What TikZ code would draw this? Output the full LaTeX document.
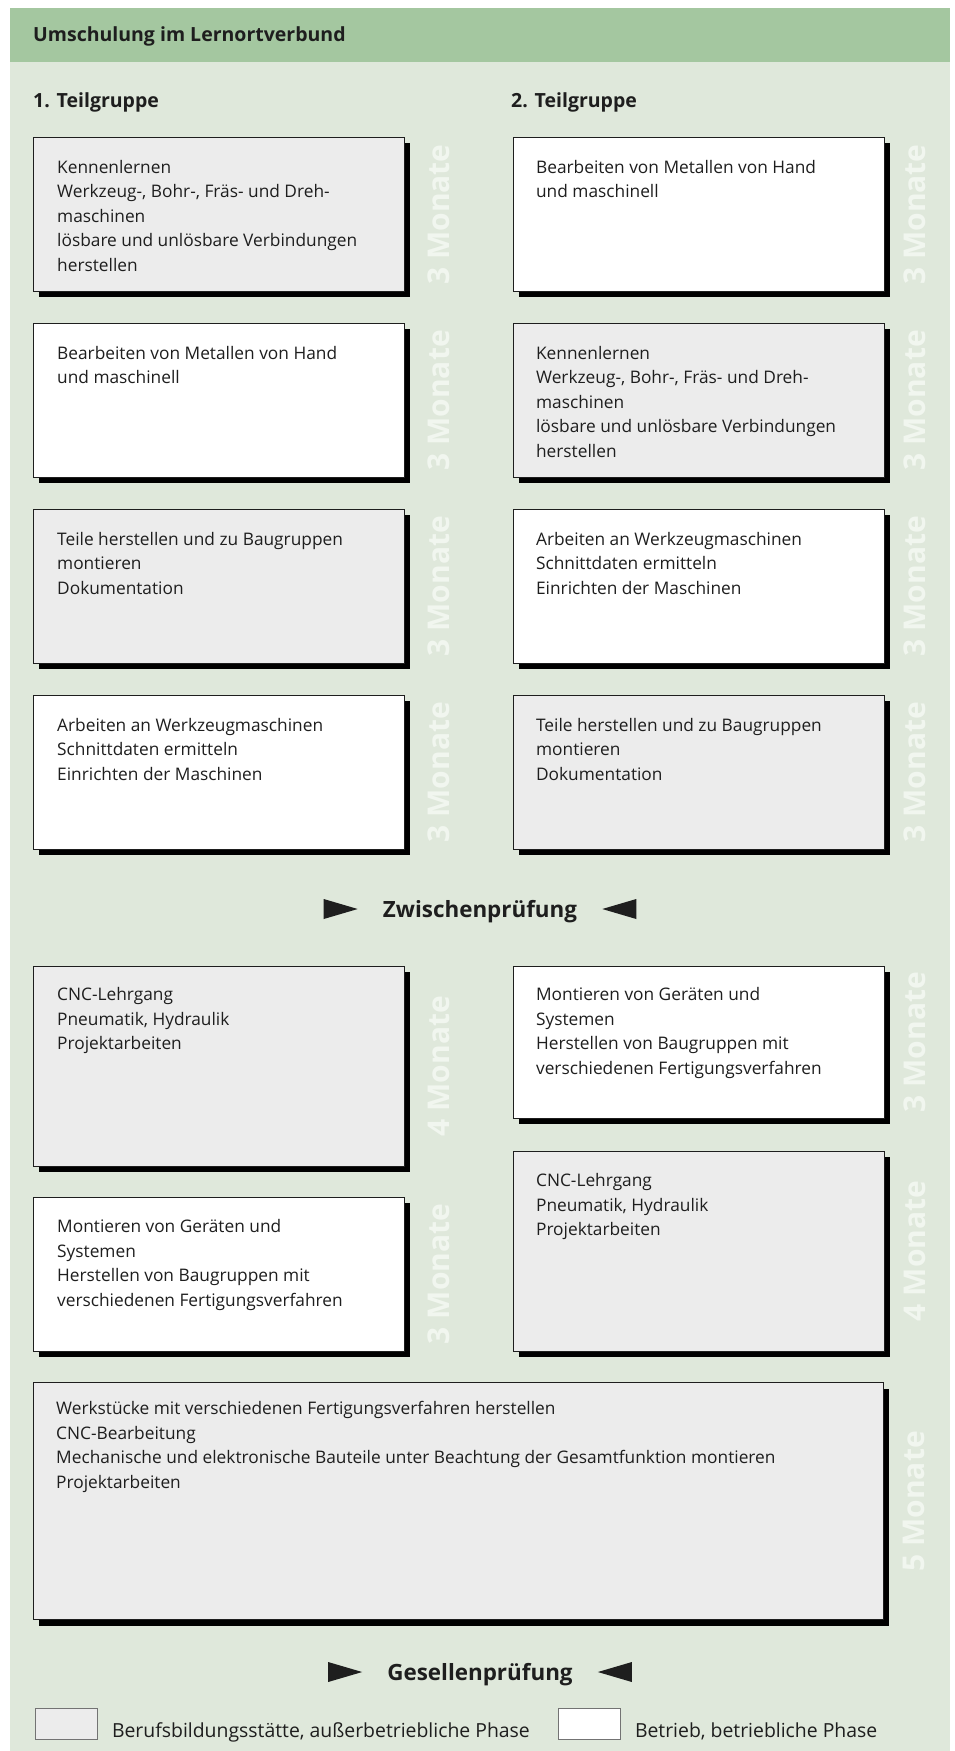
\documentclass[tikz,border=0pt]{standalone}
\usepackage{fontspec}
\setmainfont{Open Sans}
\usepackage{tikz}
\usepackage{xcolor}
\usetikzlibrary{positioning,shadows}

\definecolor{headgreen}{RGB}{164,199,160}
\definecolor{bodygreen}{RGB}{223,232,219}
\definecolor{monthwhite}{RGB}{241,246,239}
\definecolor{schoolgray}{RGB}{236,236,236}
\definecolor{ink}{RGB}{30,30,30}

\begin{document}
\begin{tikzpicture}[x = 1pt, y = -1pt,
        phase/.style = {draw = ink, line width = 0.9pt, minimum width = 371pt, minimum height = 154pt,
            inner sep = 0pt, anchor = north west,
            drop shadow = {shadow xshift = 6pt, shadow yshift = -6pt, opacity = 1, fill = black}},
        school/.style = {phase, fill = schoolgray},
        firm/.style = {phase, fill = white},
        txt/.style = {anchor = north west, align = left, inner sep = 0pt, text = ink,
            font = \fontsize{17.3}{24.5}\selectfont},
        mon/.style = {rotate = 90, text = monthwhite, inner sep = 0pt, font = \bfseries\fontsize{30}{30}\selectfont},
        head/.style = {anchor = base west, inner sep = 0pt, text = ink, font = \bfseries\fontsize{19.5}{24}\selectfont},
        exam/.style = {anchor = base, inner sep = 0pt, text = ink, font = \bfseries\fontsize{22.4}{26}\selectfont},
        legbox/.style = {draw = black!55, line width = 0.8pt, minimum width = 62pt, minimum height = 31pt,
            inner sep = 0pt, anchor = north west},
        legtxt/.style = {anchor = base west, inner sep = 0pt, text = ink, font = \fontsize{19.4}{24}\selectfont}]
        \useasboundingbox (0,0) rectangle (954,1751);
        \fill [white] (0,0) rectangle (954,1751);
        \fill [bodygreen] (10,8) rectangle (950,1751);
        \fill [headgreen] (10,8) rectangle (950,62);

        \node [head] (T) at (33,41) {Umschulung im Lernortverbund};
        \node [head] (G1) at (33,107) {1. Teilgruppe};
        \node [head] (G2) at (511,107) {2. Teilgruppe};

        \node [school] (L1) at (33,137) {};
        \node [firm] (L2) [below = 31pt of L1] {};
        \node [school] (L3) [below = 31pt of L2] {};
        \node [firm] (L4) [below = 31pt of L3] {};
        \node [school, minimum height = 200pt] (L5) [below = 116pt of L4] {};
        \node [firm] (L6) [below = 30pt of L5] {};

        \node [firm] (R1) [right = 108pt of L1] {};
        \node [school] (R2) [right = 108pt of L2] {};
        \node [firm] (R3) [right = 108pt of L3] {};
        \node [school] (R4) [right = 108pt of L4] {};
        \node [firm, minimum height = 152pt] (R5) [below = 116pt of R4] {};
        \node [school, minimum height = 200pt] (R6) [below = 32pt of R5] {};

        \node [school, minimum width = 850pt, minimum height = 237pt] (W) [below right = 31pt and 0pt of L6.south west] {};

        \node [txt] (L1t) at ([xshift = 24pt, yshift = -23pt] L1.north west) {Kennenlernen\\Werkzeug-, Bohr-, Fräs- und Dreh-\\maschinen\\lösbare und unlösbare Verbindungen\\herstellen};
        \node [txt] (L2t) at ([xshift = 24pt, yshift = -23pt] L2.north west) {Bearbeiten von Metallen von Hand\\und maschinell};
        \node [txt] (L3t) at ([xshift = 24pt, yshift = -23pt] L3.north west) {Teile herstellen und zu Baugruppen\\montieren\\Dokumentation};
        \node [txt] (L4t) at ([xshift = 24pt, yshift = -23pt] L4.north west) {Arbeiten an Werkzeugmaschinen\\Schnittdaten ermitteln\\Einrichten der Maschinen};
        \node [txt] (L5t) at ([xshift = 24pt, yshift = -22pt] L5.north west) {CNC-Lehrgang\\Pneumatik, Hydraulik\\Projektarbeiten};
        \node [txt] (L6t) at ([xshift = 24pt, yshift = -23pt] L6.north west) {Montieren von Geräten und\\Systemen\\Herstellen von Baugruppen mit\\verschiedenen Fertigungsverfahren};
        \node [txt] (R1t) at ([xshift = 23pt, yshift = -23pt] R1.north west) {Bearbeiten von Metallen von Hand\\und maschinell};
        \node [txt] (R2t) at ([xshift = 23pt, yshift = -23pt] R2.north west) {Kennenlernen\\Werkzeug-, Bohr-, Fräs- und Dreh-\\maschinen\\lösbare und unlösbare Verbindungen\\herstellen};
        \node [txt] (R3t) at ([xshift = 23pt, yshift = -23pt] R3.north west) {Arbeiten an Werkzeugmaschinen\\Schnittdaten ermitteln\\Einrichten der Maschinen};
        \node [txt] (R4t) at ([xshift = 23pt, yshift = -23pt] R4.north west) {Teile herstellen und zu Baugruppen\\montieren\\Dokumentation};
        \node [txt] (R5t) at ([xshift = 23pt, yshift = -22pt] R5.north west) {Montieren von Geräten und\\Systemen\\Herstellen von Baugruppen mit\\verschiedenen Fertigungsverfahren};
        \node [txt] (R6t) at ([xshift = 23pt, yshift = -23pt] R6.north west) {CNC-Lehrgang\\Pneumatik, Hydraulik\\Projektarbeiten};
        \node [txt] (Wt) at ([xshift = 23pt, yshift = -19pt] W.north west) {Werkstücke mit verschiedenen Fertigungsverfahren herstellen\\CNC-Bearbeitung\\Mechanische und elektronische Bauteile unter Beachtung der Gesamtfunktion montieren\\Projektarbeiten};

        \node [mon] (L1m) at ([xshift = 34pt] L1.east) {3 Monate};
        \node [mon] (L2m) at ([xshift = 34pt] L2.east) {3 Monate};
        \node [mon] (L3m) at ([xshift = 34pt] L3.east) {3 Monate};
        \node [mon] (L4m) at ([xshift = 34pt] L4.east) {3 Monate};
        \node [mon] (L5m) at ([xshift = 34pt] L5.east) {4 Monate};
        \node [mon] (L6m) at ([xshift = 34pt] L6.east) {3 Monate};
        \node [mon] (R1m) at ([xshift = 30pt] R1.east) {3 Monate};
        \node [mon] (R2m) at ([xshift = 30pt] R2.east) {3 Monate};
        \node [mon] (R3m) at ([xshift = 30pt] R3.east) {3 Monate};
        \node [mon] (R4m) at ([xshift = 30pt] R4.east) {3 Monate};
        \node [mon] (R5m) at ([xshift = 30pt] R5.east) {3 Monate};
        \node [mon] (R6m) at ([xshift = 30pt] R6.east) {4 Monate};
        \node [mon] (Wm) at ([xshift = 30pt] W.east) {5 Monate};

        \node [exam] (Z) at (480,917) {Zwischenprüfung};
        \fill [ink] ([xshift = -25pt, yshift = 8pt] Z.base west) -- ++(-34,-10) -- ++(0,20) -- cycle;
        \fill [ink] ([xshift = 25pt, yshift = 8pt] Z.base east) -- ++(34,-10) -- ++(0,20) -- cycle;

        \node [exam] (P) at (480,1680) {Gesellenprüfung};
        \fill [ink] ([xshift = -25pt, yshift = 8pt] P.base west) -- ++(-34,-10) -- ++(0,20) -- cycle;
        \fill [ink] ([xshift = 25pt, yshift = 8pt] P.base east) -- ++(34,-10) -- ++(0,20) -- cycle;

        \node [legbox, fill = schoolgray] (K1) at (35,1708) {};
        \node [legtxt] (K1t) at ([xshift = 14pt, yshift = 2pt] K1.south east) {Berufsbildungsstätte, außerbetriebliche Phase};
        \node [legbox, fill = white] (K2) at (558,1708) {};
        \node [legtxt] (K2t) at ([xshift = 14pt, yshift = 2pt] K2.south east) {Betrieb, betriebliche Phase};
    \end{tikzpicture}
\end{document}
